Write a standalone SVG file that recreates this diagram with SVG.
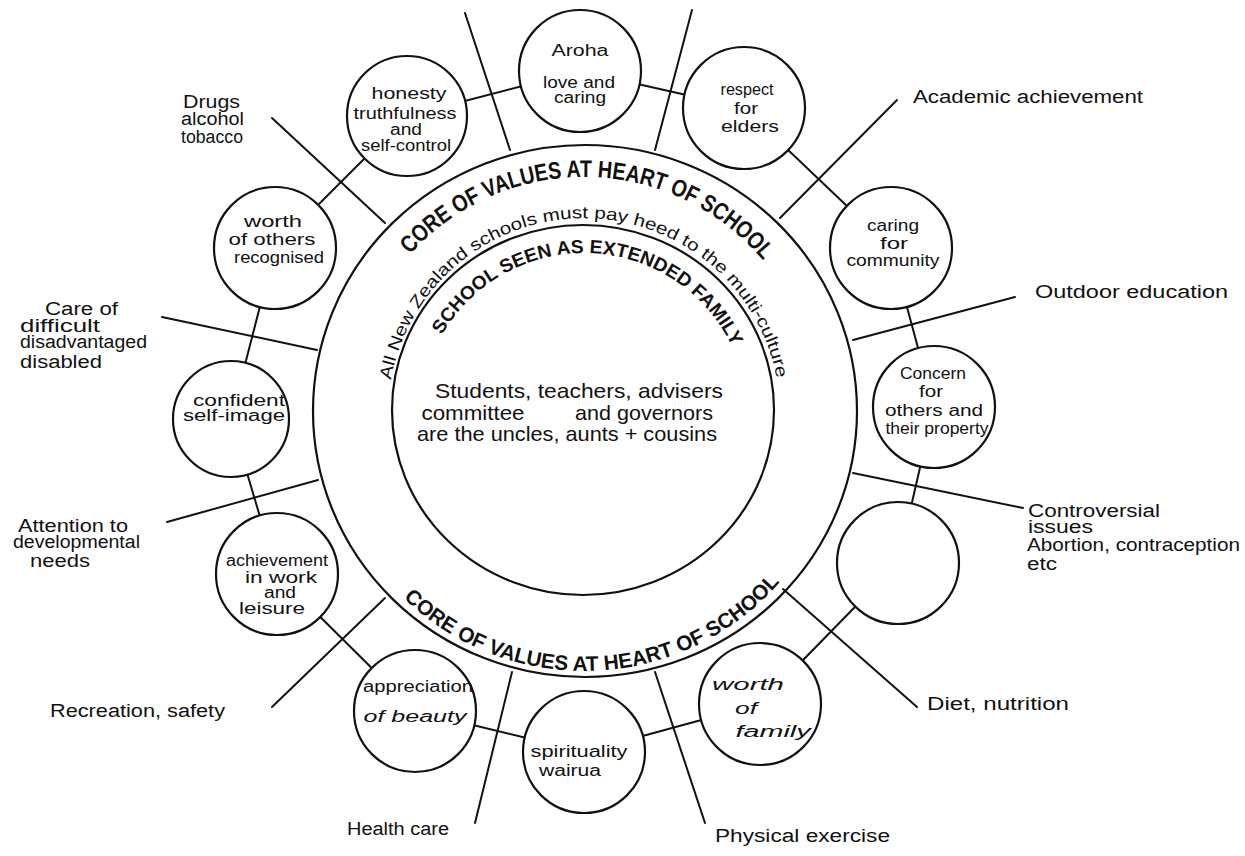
<svg xmlns="http://www.w3.org/2000/svg" width="1245" height="856" viewBox="0 0 1245 856">
<style>
  .ln{stroke:#111;stroke-width:2;fill:none;stroke-linecap:round}
  .nd{stroke:#111;stroke-width:2.2;fill:#fff}
  .ring{stroke:#111;stroke-width:2.2;fill:none}
  text{font-family:"Liberation Sans",Arial,sans-serif;fill:#111}
  .nt{font-size:16px;text-anchor:middle}
  .lb{font-size:18px}
  .ct{font-size:21px;text-anchor:middle}
  .cap{font-weight:bold}
</style>
<defs>
  <path id="arcTop" d="M410.1,254.4 A234,234 0 0 1 763.2,260.6"/>
  <path id="arcNZ" d="M391,380 A196,196 0 0 1 777,380"/>
  <path id="arcFam" d="M442,335 A164,164 0 0 1 732.6,347.7"/>
  <path id="arcBot" d="M403.4,598 A260,260 0 0 0 780.2,581.6"/>
</defs>

<g id="rings">
  <ellipse class="ring" cx="585" cy="411" rx="272" ry="266"/>
  <ellipse class="ring" cx="583" cy="410" rx="191" ry="185"/>
</g>

<g id="connectors">
  <line class="ln" x1="580" y1="71" x2="744" y2="108"/>
  <line class="ln" x1="744" y1="108" x2="891" y2="248"/>
  <line class="ln" x1="891" y1="248" x2="934" y2="407"/>
  <line class="ln" x1="934" y1="407" x2="898" y2="563"/>
  <line class="ln" x1="898" y1="563" x2="760" y2="704"/>
  <line class="ln" x1="760" y1="704" x2="584" y2="752"/>
  <line class="ln" x1="584" y1="752" x2="415" y2="711"/>
  <line class="ln" x1="415" y1="711" x2="277" y2="574"/>
  <line class="ln" x1="277" y1="574" x2="231" y2="419"/>
  <line class="ln" x1="231" y1="419" x2="275" y2="248"/>
  <line class="ln" x1="275" y1="248" x2="407" y2="116"/>
  <line class="ln" x1="407" y1="116" x2="580" y2="71"/>
  <line class="ln" x1="510" y1="150" x2="465" y2="13"/>
  <line class="ln" x1="655" y1="150" x2="692" y2="10"/>
  <line class="ln" x1="780" y1="218" x2="897" y2="100"/>
  <line class="ln" x1="853" y1="340" x2="1015" y2="297"/>
  <line class="ln" x1="853" y1="473" x2="1023" y2="508"/>
  <line class="ln" x1="783" y1="589" x2="917" y2="707"/>
  <line class="ln" x1="655" y1="672" x2="705" y2="823"/>
  <line class="ln" x1="512" y1="672" x2="475" y2="823"/>
  <line class="ln" x1="385" y1="598" x2="272" y2="707"/>
  <line class="ln" x1="318" y1="480" x2="167" y2="522"/>
  <line class="ln" x1="317" y1="350" x2="162" y2="317"/>
  <line class="ln" x1="385" y1="223" x2="272" y2="118"/>
</g>

<g id="ring-text">
  <text class="cap" font-size="24"><textPath href="#arcTop" textLength="400" lengthAdjust="spacingAndGlyphs">CORE OF VALUES AT HEART OF SCHOOL</textPath></text>
  <text font-size="17"><textPath href="#arcNZ" textLength="545" lengthAdjust="spacingAndGlyphs">All New Zealand schools must pay heed to the multi-culture</textPath></text>
  <text class="cap" font-size="19"><textPath href="#arcFam" textLength="356" lengthAdjust="spacingAndGlyphs">SCHOOL SEEN AS EXTENDED FAMILY</textPath></text>
  <text class="cap" font-size="21"><textPath href="#arcBot" textLength="421" lengthAdjust="spacingAndGlyphs">CORE OF VALUES AT HEART OF SCHOOL</textPath></text>
</g>

<g id="centre">
  <text class="ct" x="579" y="398" textLength="288" lengthAdjust="spacingAndGlyphs">Students, teachers, advisers</text>
  <text class="ct" y="420"><tspan x="473" textLength="103" lengthAdjust="spacingAndGlyphs">committee</tspan><tspan x="644" textLength="138" lengthAdjust="spacingAndGlyphs">and governors</tspan></text>
  <text class="ct" x="567" y="441" textLength="300" lengthAdjust="spacingAndGlyphs">are the uncles, aunts + cousins</text>
</g>

<g id="n-aroha">
  <circle class="nd" cx="580" cy="71" r="61"/>
  <text class="nt" x="580" y="56" font-size="19" textLength="57" lengthAdjust="spacingAndGlyphs">Aroha</text>
  <text class="nt" x="579" y="88" font-size="15" textLength="72" lengthAdjust="spacingAndGlyphs">love and</text>
  <text class="nt" x="580" y="103" textLength="52" lengthAdjust="spacingAndGlyphs">caring</text>
</g>
<g id="n-respect">
  <circle class="nd" cx="744" cy="108" r="61"/>
  <text class="nt" x="747" y="95" font-size="14" textLength="53" lengthAdjust="spacingAndGlyphs">respect</text>
  <text class="nt" x="746" y="114" font-size="14" textLength="24" lengthAdjust="spacingAndGlyphs">for</text>
  <text class="nt" x="750" y="132" font-size="14" textLength="58" lengthAdjust="spacingAndGlyphs">elders</text>
</g>
<g id="n-community">
  <circle class="nd" cx="891" cy="248" r="61"/>
  <text class="nt" x="893" y="231" textLength="52" lengthAdjust="spacingAndGlyphs">caring</text>
  <text class="nt" x="894" y="249" textLength="28" lengthAdjust="spacingAndGlyphs">for</text>
  <text class="nt" x="893" y="266" textLength="93" lengthAdjust="spacingAndGlyphs">community</text>
</g>
<g id="n-concern">
  <circle class="nd" cx="934" cy="407" r="61"/>
  <text class="nt" x="933" y="379" font-size="15" textLength="66" lengthAdjust="spacingAndGlyphs">Concern</text>
  <text class="nt" x="931" y="397" font-size="15" textLength="24" lengthAdjust="spacingAndGlyphs">for</text>
  <text class="nt" x="934" y="416" font-size="15" textLength="98" lengthAdjust="spacingAndGlyphs">others and</text>
  <text class="nt" x="937" y="434" font-size="15" textLength="103" lengthAdjust="spacingAndGlyphs">their property</text>
</g>
<g id="n-empty">
  <circle class="nd" cx="898" cy="563" r="61"/>
</g>
<g id="n-family">
  <circle class="nd" cx="760" cy="704" r="61"/>
  <text class="nt" x="748" y="690" font-size="22" font-style="italic" textLength="72" lengthAdjust="spacingAndGlyphs">worth</text>
  <text class="nt" x="746" y="714" font-size="22" font-style="italic" textLength="22" lengthAdjust="spacingAndGlyphs">of</text>
  <text class="nt" x="773" y="737" font-size="22" font-style="italic" textLength="75" lengthAdjust="spacingAndGlyphs">family</text>
</g>
<g id="n-spirituality">
  <circle class="nd" cx="584" cy="752" r="61"/>
  <text class="nt" x="579" y="757" font-size="17" textLength="97" lengthAdjust="spacingAndGlyphs">spirituality</text>
  <text class="nt" x="570" y="776" font-size="17" textLength="62" lengthAdjust="spacingAndGlyphs">wairua</text>
</g>
<g id="n-beauty">
  <circle class="nd" cx="415" cy="711" r="61"/>
  <text class="nt" x="418" y="692" font-size="18" textLength="110" lengthAdjust="spacingAndGlyphs">appreciation</text>
  <text class="nt" x="415" y="722" font-size="21" font-style="italic" textLength="103" lengthAdjust="spacingAndGlyphs">of beauty</text>
</g>
<g id="n-achievement">
  <circle class="nd" cx="277" cy="574" r="61"/>
  <text class="nt" x="277" y="566" textLength="102" lengthAdjust="spacingAndGlyphs">achievement</text>
  <text class="nt" x="281" y="583" textLength="72" lengthAdjust="spacingAndGlyphs">in work</text>
  <text class="nt" x="280" y="598" textLength="32" lengthAdjust="spacingAndGlyphs">and</text>
  <text class="nt" x="272" y="614" textLength="66" lengthAdjust="spacingAndGlyphs">leisure</text>
</g>
<g id="n-confident">
  <circle class="nd" cx="231" cy="419" r="58"/>
  <text class="nt" x="239" y="406" font-size="17" textLength="92" lengthAdjust="spacingAndGlyphs">confident</text>
  <text class="nt" x="234" y="421" font-size="17" textLength="102" lengthAdjust="spacingAndGlyphs">self-image</text>
</g>
<g id="n-others">
  <circle class="nd" cx="275" cy="248" r="61"/>
  <text class="nt" x="273" y="227" textLength="58" lengthAdjust="spacingAndGlyphs">worth</text>
  <text class="nt" x="272" y="245" textLength="87" lengthAdjust="spacingAndGlyphs">of others</text>
  <text class="nt" x="279" y="263" textLength="90" lengthAdjust="spacingAndGlyphs">recognised</text>
</g>
<g id="n-honesty">
  <circle class="nd" cx="407" cy="116" r="60"/>
  <text class="nt" x="409" y="99" font-size="17" textLength="75" lengthAdjust="spacingAndGlyphs">honesty</text>
  <text class="nt" x="405" y="119" font-size="17" textLength="103" lengthAdjust="spacingAndGlyphs">truthfulness</text>
  <text class="nt" x="406" y="135" font-size="17" textLength="32" lengthAdjust="spacingAndGlyphs">and</text>
  <text class="nt" x="406" y="151" font-size="17" textLength="90" lengthAdjust="spacingAndGlyphs">self-control</text>
</g>

<g id="labels">
  <text class="lb" x="913" y="103" font-size="22" textLength="230" lengthAdjust="spacingAndGlyphs">Academic achievement</text>
  <text class="lb" x="1035" y="298" font-size="21" textLength="193" lengthAdjust="spacingAndGlyphs">Outdoor education</text>
  <text class="lb" x="1028" y="517" textLength="132" lengthAdjust="spacingAndGlyphs">Controversial</text>
  <text class="lb" x="1028" y="533" textLength="65" lengthAdjust="spacingAndGlyphs">issues</text>
  <text class="lb" x="1027" y="551" textLength="213" lengthAdjust="spacingAndGlyphs">Abortion, contraception</text>
  <text class="lb" x="1027" y="570" textLength="30" lengthAdjust="spacingAndGlyphs">etc</text>
  <text class="lb" x="927" y="710" font-size="19" textLength="142" lengthAdjust="spacingAndGlyphs">Diet, nutrition</text>
  <text class="lb" x="715" y="842" font-size="20" textLength="175" lengthAdjust="spacingAndGlyphs">Physical exercise</text>
  <text class="lb" x="347" y="835" font-size="17" textLength="102" lengthAdjust="spacingAndGlyphs">Health care</text>
  <text class="lb" x="50" y="717" font-size="17" textLength="175" lengthAdjust="spacingAndGlyphs">Recreation, safety</text>
  <text class="lb" x="18" y="532" font-size="17" textLength="110" lengthAdjust="spacingAndGlyphs">Attention to</text>
  <text class="lb" x="13" y="548" font-size="17" textLength="127" lengthAdjust="spacingAndGlyphs">developmental</text>
  <text class="lb" x="30" y="567" font-size="17" textLength="60" lengthAdjust="spacingAndGlyphs">needs</text>
  <text class="lb" x="45" y="315" font-size="17" textLength="73" lengthAdjust="spacingAndGlyphs">Care of</text>
  <text class="lb" x="20" y="332" font-size="17" textLength="80" lengthAdjust="spacingAndGlyphs">difficult</text>
  <text class="lb" x="20" y="348" font-size="17" textLength="127" lengthAdjust="spacingAndGlyphs">disadvantaged</text>
  <text class="lb" x="20" y="368" font-size="17" textLength="82" lengthAdjust="spacingAndGlyphs">disabled</text>
  <text class="lb" x="183" y="108" font-size="16" textLength="57" lengthAdjust="spacingAndGlyphs">Drugs</text>
  <text class="lb" x="181" y="125" font-size="16" textLength="63" lengthAdjust="spacingAndGlyphs">alcohol</text>
  <text class="lb" x="181" y="143" font-size="16" textLength="62" lengthAdjust="spacingAndGlyphs">tobacco</text>
</g>
</svg>
